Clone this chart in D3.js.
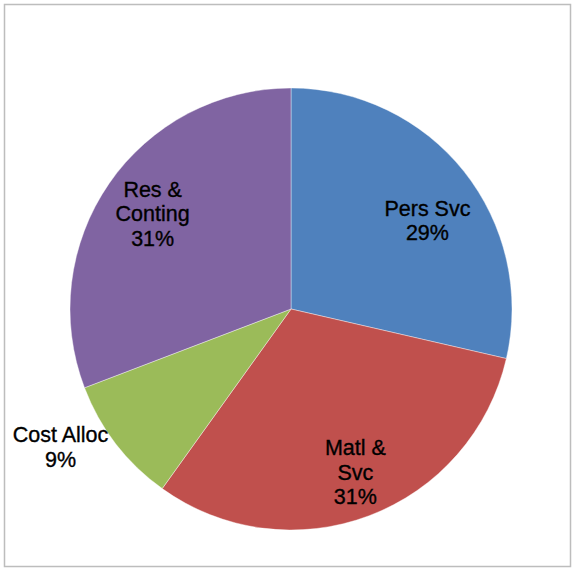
<!DOCTYPE html>
<html><head><meta charset="utf-8">
<script src="https://cdn.jsdelivr.net/npm/d3@7"></script>
<style>body{margin:0;background:#fff}svg{display:block}</style>
</head><body>
<svg id="c" width="573" height="570"></svg>
<script>
const categories = ["Pers Svc", "Matl & Svc", "Cost Alloc", "Res & Conting"];
const labelLines = [["Pers Svc"], ["Matl &", "Svc"], ["Cost Alloc"], ["Res &", "Conting"]];
const values = [28.6, 31.3, 9.3, 30.8];
const percentLabels = ["29%", "31%", "9%", "31%"];
const colors = ["#4F81BD", "#C0504D", "#9BBB59", "#8064A2"];

const svg = d3.select("#c");
svg.append("rect").attr("x", 4.5).attr("y", 4.5).attr("width", 566).attr("height", 562)
  .attr("fill", "#fff").attr("stroke", "#BDBDBD").attr("stroke-width", 1.5);

const cx = 291, cy = 309, R = 221;
const g = svg.append("g").attr("transform", `translate(${cx},${cy})`);
const pie = d3.pie().sort(null).value(d => d);
const arcs = pie(values);
const arc = d3.arc().innerRadius(0).outerRadius(R);
g.selectAll("path").data(arcs).join("path")
  .attr("d", arc).attr("fill", (d, i) => colors[i])
  .attr("stroke", "#fff").attr("stroke-width", 0.4);

// label nudges (Excel best-fit placement)
const nudge = {"Pers Svc": [5, 16], "Matl & Svc": [5, 6], "Cost Alloc": [-23, -22], "Res & Conting": [0, 0]};
const inArc = d3.arc().innerRadius(168).outerRadius(168);
const outArc = d3.arc().innerRadius(262).outerRadius(262);
const lh = 24.5;
arcs.forEach((d, i) => {
  const small = values[i] < 10;
  let [x, y] = (small ? outArc : inArc).centroid(d);
  const n = nudge[categories[i]];
  x += n[0]; y += n[1];
  const lines = labelLines[i].concat([percentLabels[i]]);
  const t = g.append("text").attr("text-anchor", "middle")
    .attr("font-family", "Liberation Sans, Arial, sans-serif")
    .attr("font-size", 21.5).attr("fill", "#000")
    .attr("stroke", "#000").attr("stroke-width", 0.35);
  const y0 = y - (lines.length - 1) * lh / 2;
  lines.forEach((s, k) => {
    t.append("tspan").attr("x", x).attr("y", y0 + k * lh).attr("dy", "0.35em").text(s);
  });
});
</script>
</body></html>
